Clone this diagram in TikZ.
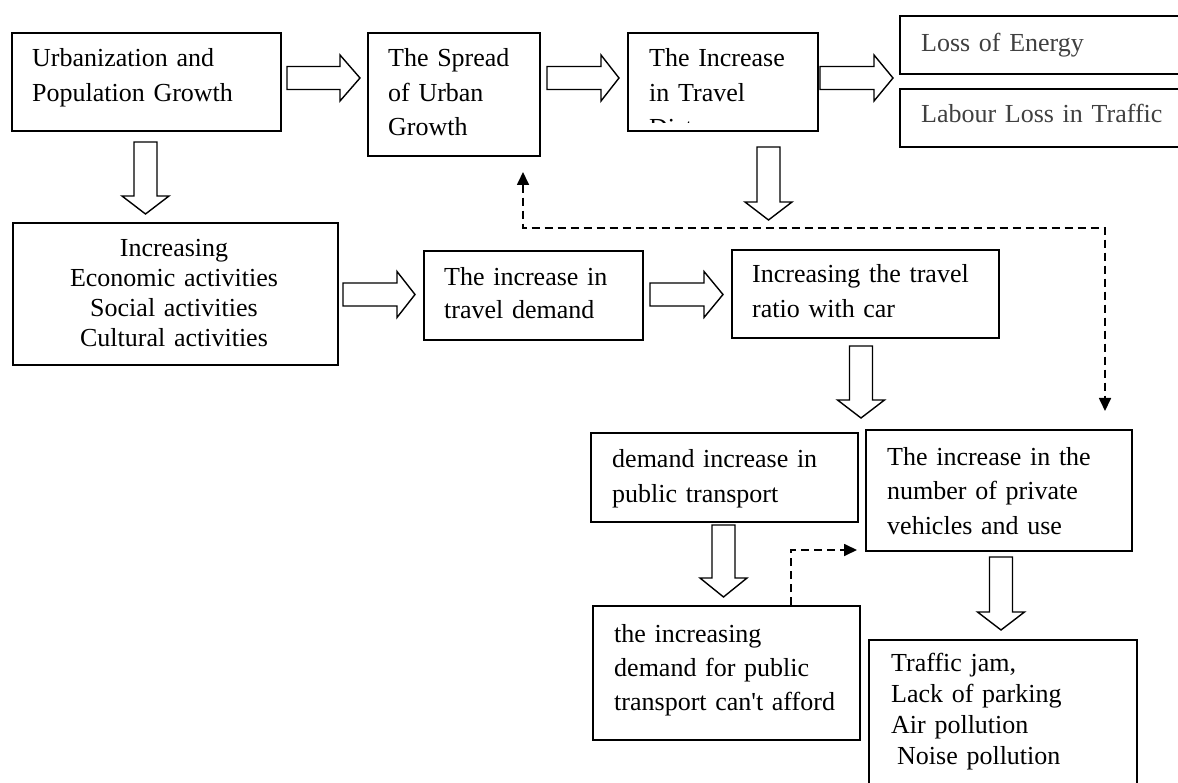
\documentclass[tikz,border=0pt]{standalone}
\usepackage{fontspec}
\setmainfont{Liberation Serif}
\usetikzlibrary{arrows.meta}
\newcommand\mybox[5]{\node[box,anchor=north west,minimum width=#4pt,minimum height=#5pt] (#1) at (#2,#3) {};}
\newcommand\rblock[4]{\draw[blk] (#1,#3-11.5) -- (#4,#3-11.5) -- (#4,#3-23) -- (#2,#3) -- (#4,#3+23) -- (#4,#3+11.5) -- (#1,#3+11.5) -- cycle;}
\newcommand\dblock[4]{\draw[blk] (#1-11.5,#2) -- (#1+11.5,#2) -- (#1+11.5,#4) -- (#1+23.5,#4) -- (#1,#3) -- (#1-23.5,#4) -- (#1-11.5,#4) -- cycle;}
\begin{document}
\begin{tikzpicture}[x=1pt,y=-1pt,
  box/.style={draw=black,line width=1.7pt,inner sep=0pt,fill=white},
  blk/.style={draw=black,line width=1.4pt,fill=white,line join=miter},
  txt/.style={inner sep=0pt,anchor=base west,align=left,text width=300pt},
  dsh/.style={line width=1.7pt,dash pattern=on 8pt off 5pt},
  tip/.style={-{Triangle[width=12pt,length=13pt]}}
]
\clip (0,0) rectangle (1178,783);
\fill[white] (0,0) rectangle (1178,783);
% boxes
\mybox{b1}{11}{32}{269}{98}
\mybox{b2}{367}{32}{172}{123}
\mybox{b3}{627}{32}{190}{98}
\mybox{b4}{899}{15}{320}{58}
\mybox{b5}{899}{88}{320}{58}
\mybox{b6}{12}{222}{325}{142}
\mybox{b7}{423}{250}{219}{89}
\mybox{b8}{731}{249}{267}{88}
\mybox{b9}{590}{432}{267}{89}
\mybox{b10}{865}{429}{266}{121}
\mybox{b11}{592}{605}{267}{134}
\mybox{b12}{868}{639}{268}{200}
% texts
\node[txt,font=\fontsize{26}{35}\selectfont] (t1) at (32,67) {Urbanization and\\Population Growth};
\node[txt,font=\fontsize{26}{34.5}\selectfont] (t2) at (388,67) {The Spread\\of Urban\\Growth};
\begin{scope}
\clip (627,32) rectangle (817,123);
\node[txt,font=\fontsize{26}{35}\selectfont] (t3) at (649,67) {The Increase\\in Travel\\Distance};
\end{scope}
\node[txt,font=\fontsize{26}{35}\selectfont,text=black!75] (t4) at (921,52) {Loss of Energy};
\node[txt,font=\fontsize{26}{35}\selectfont,text=black!75] (t5) at (921,123) {Labour Loss in Traffic};
\node[txt,font=\fontsize{26}{30}\selectfont,align=center,anchor=base] (t6) at (174,257) {Increasing\\Economic activities\\Social activities\\Cultural activities};
\node[txt,font=\fontsize{26}{33}\selectfont] (t7) at (444,286) {The increase in\\travel demand};
\node[txt,font=\fontsize{26}{35}\selectfont] (t8) at (752,283) {Increasing the travel\\ratio with car};
\node[txt,font=\fontsize{26}{35}\selectfont] (t9) at (612,467) {demand increase in\\public transport};
\node[txt,font=\fontsize{26}{34.5}\selectfont] (t10) at (887,465) {The increase in the\\number of private\\vehicles and use};
\node[txt,font=\fontsize{26}{34}\selectfont] (t11) at (614,642) {the increasing\\demand for public\\transport can\textquotesingle t afford};
\node[txt,font=\fontsize{26}{31}\selectfont] (t12) at (891,671) {Traffic jam,\\Lack of parking\\Air pollution\\\hspace*{6pt}Noise pollution};
% block arrows
\rblock{287}{360}{78}{340}
\rblock{547}{619}{78}{601}
\rblock{820}{893}{78}{874}
\rblock{343}{415}{294.5}{397}
\rblock{650}{723}{294.5}{704}
\dblock{145.5}{142}{214}{196}
\dblock{768.5}{147}{220}{202}
\dblock{861}{346}{418}{400}
\dblock{723.5}{525}{597}{578}
\dblock{1001}{557}{630}{612}
% dashed connectors
\coordinate (c1) at (523,172);
\coordinate (c2) at (1105,411);
\draw[dsh,{Triangle[width=12pt,length=13pt]}-{Triangle[width=12pt,length=13pt]}] (c1) -- (523,228) -- (1105,228) -- (c2);
\coordinate (c3) at (791,605);
\coordinate (c4) at (857,550);
\draw[dsh,tip] (c3) -- (791,550) -- (c4);
\end{tikzpicture}
\end{document}
